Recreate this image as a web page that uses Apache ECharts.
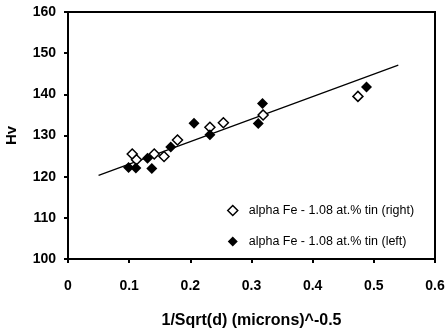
<!DOCTYPE html>
<html>
<head>
<meta charset="utf-8">
<script src="https://cdn.jsdelivr.net/npm/echarts@6/dist/echarts.min.js"></script>
<style>
  html, body { margin: 0; padding: 0; background: #fff; }
  #chart { width: 447px; height: 331px; }
</style>
</head>
<body>
<div id="chart"></div>
<script>
// alpha Fe - 1.08 at.% tin, Hv against 1/sqrt(d)
const rightX = [0.105, 0.112, 0.141, 0.157, 0.179, 0.232, 0.254, 0.319, 0.474];
const rightHv = [125.5, 124.1, 125.5, 124.9, 128.9, 132.0, 133.1, 135.0, 139.5];

const leftX = [0.099, 0.111, 0.130, 0.137, 0.168, 0.206, 0.232, 0.311, 0.318, 0.488];
const leftHv = [122.2, 122.1, 124.5, 122.0, 127.2, 133.0, 130.2, 132.9, 137.8, 141.8];

const fitX = [0.05, 0.54];
const fitHv = [120.3, 147.1];

const xTicks = [0, 0.1, 0.2, 0.3, 0.4, 0.5, 0.6];
const yTicks = [100, 110, 120, 130, 140, 150, 160];

const nameRight = "alpha Fe - 1.08 at.% tin (right)";
const nameLeft = "alpha Fe - 1.08 at.% tin (left)";

const pairs = (xs, ys) => xs.map((x, i) => [x, ys[i]]);

const chart = echarts.init(document.getElementById("chart"), null, { renderer: "canvas" });

const axisFont = {
  color: "#000",
  fontFamily: "Liberation Sans, Arial, sans-serif",
  fontWeight: "bold",
  fontSize: 14,
};

chart.setOption({
  animation: false,
  backgroundColor: "#fff",
  grid: {
    left: 68,
    right: 12,
    top: 12,
    bottom: 72,
    containLabel: false,
    outerBoundsMode: "none",
    show: true,
    borderColor: "#000",
    borderWidth: 2,
  },
  legend: {
    orient: "vertical",
    left: 222,
    top: 199,
    itemGap: 18,
    itemWidth: 10,
    itemHeight: 10,
    textStyle: {
      color: "#000",
      fontFamily: "Liberation Sans, Arial, sans-serif",
      fontSize: 12.5,
      padding: [0, 0, 0, 6],
    },
    data: [
      { name: nameRight, icon: "diamond", itemStyle: { color: "#fff", borderColor: "#000", borderWidth: 1.5, opacity: 1 } },
      { name: nameLeft, icon: "diamond", itemStyle: { color: "#000", opacity: 1 } },
    ],
  },
  xAxis: {
    type: "value",
    min: xTicks[0],
    max: xTicks[xTicks.length - 1],
    interval: 0.1,
    name: "1/Sqrt(d) (microns)^-0.5",
    nameLocation: "middle",
    nameGap: 54,
    nameTextStyle: Object.assign({}, axisFont, { fontSize: 16 }),
    axisLine: { show: true, onZero: false, lineStyle: { color: "#000", width: 2 } },
    axisTick: { show: true, length: 4, lineStyle: { color: "#000", width: 2 } },
    axisLabel: Object.assign({}, axisFont, { margin: 20, formatter: (v) => String(+v.toFixed(1)) }),
    splitLine: { show: false },
  },
  yAxis: {
    type: "value",
    min: yTicks[0],
    max: yTicks[yTicks.length - 1],
    interval: 10,
    name: "Hv",
    nameLocation: "middle",
    nameGap: 49,
    nameRotate: 90,
    nameTextStyle: Object.assign({}, axisFont, { fontSize: 15 }),
    axisLine: { show: true, lineStyle: { color: "#000", width: 2 } },
    axisTick: { show: true, length: 4, lineStyle: { color: "#000", width: 2 } },
    axisLabel: Object.assign({}, axisFont, { margin: 12 }),
    splitLine: { show: false },
  },
  series: [
    {
      name: "fit",
      type: "line",
      data: pairs(fitX, fitHv),
      symbol: "none",
      lineStyle: { color: "#000", width: 1.2 },
      z: 1,
    },
    {
      name: nameRight,
      type: "scatter",
      data: pairs(rightX, rightHv),
      symbol: "diamond",
      symbolSize: 10,
      itemStyle: { color: "#fff", borderColor: "#000", borderWidth: 1.5, opacity: 1 },
      z: 2,
    },
    {
      name: nameLeft,
      type: "scatter",
      data: pairs(leftX, leftHv),
      symbol: "diamond",
      symbolSize: 11,
      itemStyle: { color: "#000", opacity: 1 },
      z: 3,
    },
  ],
});
</script>
</body>
</html>
